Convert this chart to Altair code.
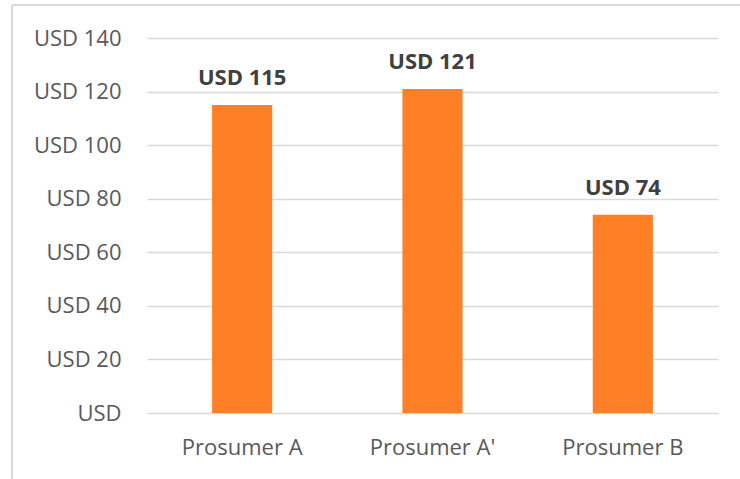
import altair as alt
import pandas as pd

categories = ["Prosumer A", "Prosumer A'", "Prosumer B"]
values = [115, 121, 74]
labels = ["USD 115", "USD 121", "USD 74"]

df = pd.DataFrame({"cat": categories, "val": values, "lab": labels})

FONT = "Open Sans"

x_enc = alt.X(
    "cat:N",
    sort=categories,
    title=None,
    scale=alt.Scale(paddingInner=0.684, paddingOuter=0.342),
    axis=alt.Axis(
        labelAngle=0, domain=False, ticks=False, labelPadding=24,
        labelFont=FONT, labelFontSize=22, labelColor="#595959",
    ),
)

bars = alt.Chart(df).mark_bar(color="#FF7F27").encode(
    x=x_enc,
    y=alt.Y(
        "val:Q",
        title=None,
        scale=alt.Scale(domain=[0, 140], nice=False),
        axis=alt.Axis(
            values=[0, 20, 40, 60, 80, 100, 120, 140],
            labelExpr="datum.value == 0 ? 'USD' : 'USD ' + datum.value",
            domain=False, ticks=False, labelPadding=26,
            labelFont=FONT, labelFontSize=22, labelColor="#595959",
            grid=True, gridColor="#d9d9d9", gridWidth=1.5,
        ),
    ),
)

text = alt.Chart(df).mark_text(
    font=FONT, fontSize=22, fontWeight="bold", color="#404040",
    baseline="alphabetic", dy=-20,
).encode(
    x=alt.X("cat:N", sort=categories),
    y="val:Q",
    text="lab:N",
)

frame_left = alt.Chart(df).mark_rule(color="#d9d9d9", strokeWidth=1.5).encode(
    x=alt.value(-135), y=alt.value(-33), y2=alt.value(441)
)
frame_top = alt.Chart(df).mark_rule(color="#d9d9d9", strokeWidth=1.5).encode(
    x=alt.value(-135), x2=alt.value(593), y=alt.value(-33)
)

chart = alt.layer(bars, text, frame_left, frame_top).properties(
    width=571,
    height=375,
    background="white",
    autosize=alt.AutoSizeParams(type="none"),
    padding={"left": 147, "top": 38, "right": 22, "bottom": 66},
).configure_view(strokeWidth=0, stroke="transparent")

chart.save("out.html", embed_options={"renderer": "svg", "actions": False})
